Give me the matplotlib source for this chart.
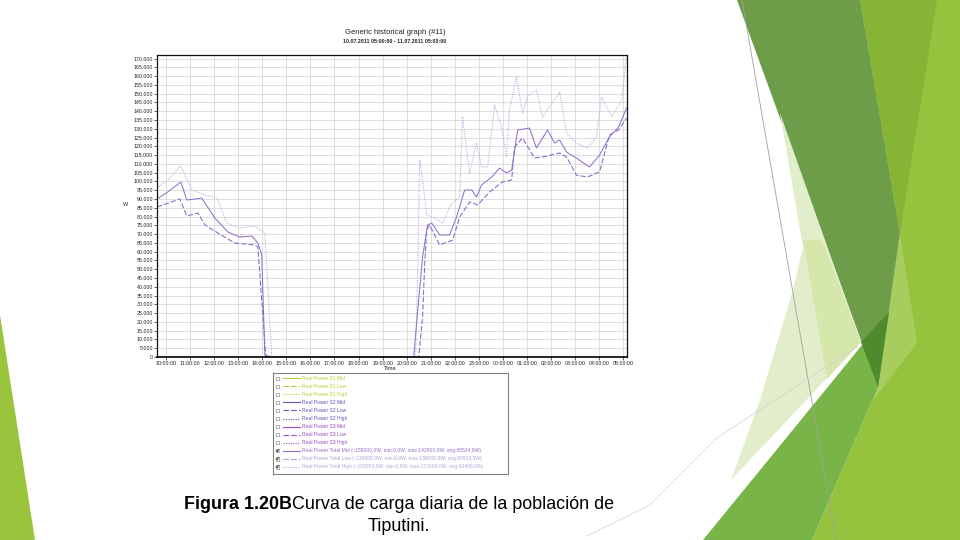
import matplotlib
matplotlib.use('Agg')
import matplotlib.pyplot as plt
from matplotlib.patches import Polygon, Rectangle

plt.rcParams['font.family'] = ['Liberation Sans', 'DejaVu Sans']

# Hours since midnight of 10.07 (values after midnight run past 24)
mid_t = [9.63, 10.08, 10.62, 10.87, 11.49, 12.03, 12.57, 13.07, 13.57, 13.82,
         13.98, 14.11, 14.40, 20.29, 20.46, 20.66, 20.87, 21.04, 21.37, 21.78,
         22.07, 22.41, 22.70, 22.90, 23.11, 23.53, 23.86, 24.15, 24.36, 24.61,
         25.10, 25.39, 25.85, 26.14, 26.35, 26.64, 27.05, 27.59, 28.01, 28.42,
         28.80, 29.13]
mid_w = [90000, 94000, 99700, 89400, 90500, 79200, 71200, 68300, 68900, 64900,
         58100, 1100, 0, 0, 26800, 57000, 75200, 76300, 69500, 69500,
         79700, 95100, 95100, 91100, 98000, 102500, 107600, 104800, 106500, 129300,
         130400, 119000, 129300, 121900, 123600, 116700, 113300, 108200, 115000, 125300,
         131000, 141800]

low_t = [9.63, 10.58, 10.87, 11.33, 11.62, 12.16, 12.86, 13.69, 13.82, 14.15,
         14.40, 20.50, 20.66, 20.75, 20.83, 20.95, 21.37, 21.91, 22.20, 22.61,
         22.95, 23.44, 23.98, 24.36, 24.48, 24.81, 25.31, 25.64, 26.35, 26.64,
         27.05, 27.51, 28.01, 28.42, 28.80, 29.13]
low_w = [85400, 90000, 80300, 82000, 75200, 70600, 64900, 63800, 62600, 0,
         0, 0, 22800, 53500, 72300, 75200, 63800, 66600, 79700, 88300,
         86600, 94000, 99700, 100800, 119600, 124700, 113300, 113900, 116200, 113900,
         103600, 102500, 105400, 126400, 129300, 136000]

high_t = [9.63, 10.08, 10.62, 11.08, 11.62, 12.12, 12.53, 13.07, 13.69, 14.11,
          14.23, 14.40, 20.37, 20.46, 20.54, 20.66, 20.83, 21.08, 21.49, 21.87,
          22.20, 22.32, 22.61, 22.90, 23.11, 23.36, 23.65, 23.94, 24.15, 24.27,
          24.56, 24.81, 25.02, 25.39, 25.64, 26.35, 26.64, 27.05, 27.51, 27.88,
          28.09, 28.51, 28.93, 29.13]
high_w = [96200, 100800, 108800, 95100, 92300, 90500, 76300, 73500, 74600, 70600,
          41000, 0, 0, 51300, 112200, 100800, 80900, 79700, 76300, 87700,
          91100, 136700, 104800, 121900, 108200, 108200, 143500, 131000, 113900, 140700,
          159500, 139000, 148100, 152100, 136700, 150900, 127600, 121900, 119000, 125300,
          148100, 136700, 146400, 172000]

hour_ticks = list(range(10, 30))
watt_ticks = list(range(0, 170001, 5000))

legend_labels = ['Real Power S1 Mid', 'Real Power S1 Low', 'Real Power S1 High',
                 'Real Power S2 Mid', 'Real Power S2 Low', 'Real Power S2 High',
                 'Real Power S3 Mid', 'Real Power S3 Low', 'Real Power S3 High',
                 'Real Power Total Mid (\u2191155000,0W, min:0,0W, max:142900,0W, avg:85524,9W)',
                 'Real Power Total Low (\u2191110000,0W, min:0,0W, max:136000,0W, avg:80513,5W)',
                 'Real Power Total High (\u2191153000,0W, min:0,0W, max:172000,0W, avg:90456,6W)']

fig = plt.figure(figsize=(9.6, 5.4), dpi=100)

# slide background shapes, in pixel coordinates
bg = fig.add_axes([0, 0, 1, 1])
bg.set_xlim(0, 960)
bg.set_ylim(540, 0)
bg.axis('off')
shapes = [
    ([(0, 315), (35, 540), (0, 540)], '#9bc43d'),
    ([(860, 0), (960, 0), (960, 540), (812, 540), (878, 387), (900, 233)], '#95c33d'),
    ([(900, 233), (917, 343), (866, 410), (878, 387), (889, 312)], '#a6cd5e'),
    ([(860, 0), (937, 0), (900, 233)], '#86b535'),
    ([(737, 0), (860, 0), (900, 233), (878, 387)], '#6e9d4a'),
    ([(780, 113), (861, 342), (731, 480), (760, 400), (793, 290), (803, 247)], '#e2eecb'),
    ([(803, 240), (822, 240), (861, 342), (827, 379)], '#d6e7ab'),
    ([(703, 540), (889, 312), (878, 387), (812, 540)], '#78b447'),
    ([(861, 342), (889, 312), (878, 387)], '#4f8a2c'),
]
for pts, col in shapes:
    bg.add_patch(Polygon(pts, closed=True, facecolor=col, edgecolor='none'))
bg.plot([742, 836], [0, 540], color='#a0a0a0', lw=0.6)
bg.plot([587, 650, 718, 857], [536, 505, 437, 347], color='#d0d0d0', lw=0.5)

# chart
ax = fig.add_axes([157 / 960, 1 - 357 / 540, 470 / 960, 302 / 540])
ax.plot(high_t, high_w, color='#bba4de', lw=0.75, ls=(0, (1, 1.2)))
ax.plot(low_t, low_w, color='#8466c4', lw=0.75, ls=(0, (5, 2)))
ax.plot(mid_t, mid_w, color='#9270cc', lw=0.75)
ax.set_xlim(9.63, 29.15)
ax.set_ylim(0, 172000)
ax.set_xticks(hour_ticks)
ax.set_xticklabels([f'{h % 24:02d}:00:00' for h in hour_ticks])
ax.set_yticks(watt_ticks)
ax.set_yticklabels([f'{v:,}'.replace(',', '.') if v else '0' for v in watt_ticks])
ax.tick_params(labelsize=3.8, length=2, width=0.5, pad=1, colors='#222222')
ax.grid(True, color='#d0d0d0', lw=0.5)
ax.set_axisbelow(True)
for s in ax.spines.values():
    s.set_color('#111111')
    s.set_linewidth(0.9)
ax.spines['bottom'].set_linewidth(1.3)

fig.text(395 / 960, 1 - 33 / 540, 'Generic historical graph (#11)', fontsize=5.5,
         ha='center', va='center', color='#222222')
fig.text(395 / 960, 1 - 42 / 540, '10.07.2011 05:00:00 - 11.07.2011 05:00:00', fontsize=3.8,
         ha='center', va='center', fontweight='bold', color='#222222')
fig.text(126 / 960, 1 - 205 / 540, 'W', fontsize=4, ha='center', va='center', color='#222222')
fig.text(390 / 960, 1 - 369 / 540, 'Time', fontsize=4.2, ha='center', va='center', color='#222222')

# legend panel
lg = fig.add_axes([273 / 960, 1 - 474 / 540, 235 / 960, 101 / 540])
lg.set_xlim(273, 508)
lg.set_ylim(474, 373)
lg.set_xticks([])
lg.set_yticks([])
for s in lg.spines.values():
    s.set_color('#808080')
    s.set_linewidth(0.8)
leg_colors = ['#b8cc3a'] * 3 + ['#5f58bc'] * 3 + ['#9c4cc8'] * 3 + ['#9270cc', '#b49cdc', '#bba4de']
leg_styles = ['-', (0, (5, 2)), (0, (1, 1.2))] * 4
for i, lab in enumerate(legend_labels):
    y = 378.3 + i * 8.04
    lg.add_patch(Rectangle((275.5, y - 1.8), 3.6, 3.6, facecolor='white',
                           edgecolor='#909090', lw=0.5))
    if i >= 9:
        lg.plot([276.2, 277.2, 278.6], [y - 0.2, y + 1.2, y - 1.4], color='#222222', lw=0.6)
    lg.plot([283, 300], [y, y], color=leg_colors[i], lw=0.8, ls=leg_styles[i])
    lg.text(302, y, lab, fontsize=3.6, color=leg_colors[i], va='center', ha='left')

# caption with bold lead-in
fig.canvas.draw()
r = fig.canvas.get_renderer()
t1 = fig.text(0, 1 - 509 / 540, 'Figura 1.20B', fontsize=12.9, fontweight='bold', va='baseline')
t2 = fig.text(0, 1 - 509 / 540, 'Curva de carga diaria de la población de', fontsize=12.9, va='baseline')
w1 = t1.get_window_extent(r).width
w2 = t2.get_window_extent(r).width
x0 = 399 - (w1 + w2) / 2
t1.set_x(x0 / 960)
t2.set_x((x0 + w1) / 960)
fig.text(399 / 960, 1 - 531 / 540, 'Tiputini.', fontsize=12.9, ha='center', va='baseline')

fig.savefig('out.png', dpi=100)
